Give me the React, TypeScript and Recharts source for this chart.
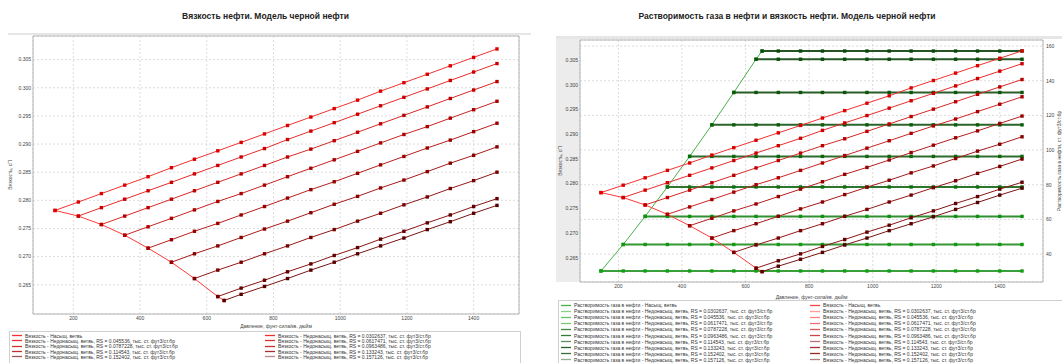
import React from 'react';
import { LineChart, Line, XAxis, YAxis, CartesianGrid, ReferenceArea } from 'recharts';

// pressure grid, psi
const pressures = [145, 215, 284, 354, 424, 494, 563, 633, 703, 773, 842, 912, 982, 1052, 1121, 1191, 1261, 1330, 1400, 1470];

// saturated branch (last point is the bubble point)
const satPressures = [145, 215, 284, 354, 424, 494, 563, 633, 652];
const satViscosity = [0.2782, 0.2772, 0.2757, 0.2738, 0.2715, 0.269, 0.2661, 0.2629, 0.2622];
const satRs = [30.26, 45.54, 61.75, 78.72, 96.35, 114.54, 133.24, 152.4, 157.13];
const rsLabels = ['0.0302637', '0.045536', '0.0617471', '0.0787228', '0.0963486', '0.114543', '0.133243', '0.152402', '0.157126'];

// undersaturated viscosity, one array per branch, from its saturation point to 1470 psi
const visc1 = [0.2782, 0.2797, 0.2812, 0.2827, 0.2842, 0.2858, 0.2873, 0.2888, 0.2903, 0.2918, 0.2933, 0.2948, 0.2963, 0.2978, 0.2994, 0.3009, 0.3024, 0.3039, 0.3054, 0.3069];
const visc2 = [0.2772, 0.2787, 0.2802, 0.2817, 0.2832, 0.2847, 0.2862, 0.2877, 0.2892, 0.2908, 0.2923, 0.2938, 0.2953, 0.2968, 0.2983, 0.2998, 0.3013, 0.3028, 0.3043];
const visc3 = [0.2757, 0.2772, 0.2787, 0.2802, 0.2817, 0.2832, 0.2847, 0.2862, 0.2877, 0.2891, 0.2906, 0.2921, 0.2936, 0.2951, 0.2966, 0.2981, 0.2996, 0.3011];
const visc4 = [0.2738, 0.2753, 0.2768, 0.2783, 0.2798, 0.2812, 0.2827, 0.2842, 0.2857, 0.2872, 0.2887, 0.2902, 0.2917, 0.2931, 0.2946, 0.2961, 0.2976];
const visc5 = [0.2715, 0.273, 0.2745, 0.2759, 0.2774, 0.2789, 0.2804, 0.2819, 0.2833, 0.2848, 0.2863, 0.2878, 0.2893, 0.2907, 0.2922, 0.2937];
const visc6 = [0.269, 0.2705, 0.2719, 0.2734, 0.2749, 0.2763, 0.2778, 0.2793, 0.2807, 0.2822, 0.2836, 0.2851, 0.2866, 0.288, 0.2895];
const visc7 = [0.2661, 0.2676, 0.269, 0.2705, 0.2719, 0.2734, 0.2748, 0.2763, 0.2777, 0.2792, 0.2806, 0.2821, 0.2835, 0.285];
const visc8 = [0.2629, 0.2644, 0.2658, 0.2673, 0.2687, 0.2702, 0.2716, 0.2731, 0.2745, 0.276, 0.2774, 0.2789, 0.2803];
const visc9 = [0.2622, 0.2633, 0.2647, 0.2661, 0.2676, 0.269, 0.2705, 0.2719, 0.2733, 0.2748, 0.2762, 0.2777, 0.2791];

const xTicks = [200, 400, 600, 800, 1000, 1200, 1400];
const viscTicks = [0.265, 0.27, 0.275, 0.28, 0.285, 0.29, 0.295, 0.3, 0.305];
const rsTicks = [40, 60, 80, 100, 120, 140, 160];

const viscBranches = [visc1, visc2, visc3, visc4, visc5, visc6, visc7, visc8, visc9];

type Pt = { p: number; v: number; rs: number };

const satData: Pt[] = satPressures.map((p, i) => ({ p, v: satViscosity[i], rs: satRs[i] }));
const branchData: Pt[][] = viscBranches.map((vals, i) => {
  const ps = [satPressures[i], ...pressures.filter((p) => p > satPressures[i])];
  return ps.map((p, j) => ({ p, v: vals[j], rs: satRs[i] }));
});

const viscNames = ['Вязкость - Насыщ. ветвь', ...rsLabels.map((r) => `Вязкость - Недонасыщ. ветвь, RS = ${r}, тыс. ст. фут3/ст.бр`)];
const rsNames = [
  'Растворимость газа в нефти - Насыщ. ветвь',
  ...rsLabels.map((r) => `Растворимость газа в нефти - Недонасыщ. ветвь, RS = ${r}, тыс. ст. фут3/ст.бр`),
];

// [saturated, branch 1..9]
const viscLine = ['#ff3a3a', '#f23232', '#e62c2c', '#d82828', '#c92323', '#b81e1e', '#a71a1a', '#961717', '#881515', '#7c1414'];
const viscDot = ['#ee1010', '#dd0000', '#cc0000', '#bb0000', '#aa0000', '#990000', '#880000', '#760000', '#620000', '#540000'];
const viscSwatch = ['#ff4040', '#ff9c9c', '#ff8080', '#f07070', '#e05555', '#c84848', '#c07070', '#a83030', '#982828', '#b08080'];
const viscSwatchLeft = ['#ff3030', '#f43030', '#ec3030', '#e23030', '#d43030', '#c83030', '#b83030', '#a82c2c', '#a05858', '#b88888'];
const rsLine = ['#48b048', '#3aa03a', '#349834', '#319031', '#2e762e', '#2c6c2c', '#2a642a', '#285e28', '#275827', '#265426'];
const rsDot = ['#14a014', '#12a012', '#109a10', '#0f920f', '#0c700c', '#0b680b', '#0a5f0a', '#0a570a', '#094f09', '#084808'];
const rsSwatch = ['#45b045', '#88d088', '#66c266', '#77c777', '#3a8a3a', '#347a34', '#5f8f5f', '#2a602a', '#3c6c3c', '#8faf8f'];

const font = '"Liberation Sans", Arial, sans-serif';
const tickStyle = { fontSize: 5, fill: '#444', fontFamily: font };

const squareDot = (color: string, size = 3.4) => (props: any) => {
  const { cx, cy, index } = props;
  if (cx == null || cy == null) return <g key={index} />;
  return <rect key={index} x={cx - size / 2} y={cy - size / 2} width={size} height={size} fill={color} />;
};

const fmtVisc = (v: number) => v.toFixed(3);

// rotated axis title placed just outside the right edge of the axis box
const rightAxisTitle = (text: string) => (props: any) => {
  const { x, y, width, height } = props.viewBox;
  const cx = x + width + 2;
  const cy = y + height / 2;
  return (
    <text x={cx} y={cy} transform={`rotate(-90 ${cx} ${cy})`} textAnchor="middle" dominantBaseline="central" style={tickStyle}>
      {text}
    </text>
  );
};

function LegendBox({ items, colors, left, top, width, colWidth, rowHeight, columnMajor, rows }: any) {
  const cells = items.map((name: string, i: number) => {
    const col = columnMajor ? Math.floor(i / rows) : i % 2;
    const row = columnMajor ? i % rows : Math.floor(i / 2);
    return (
      <div
        key={i}
        style={{
          position: 'absolute',
          left: 2 + col * colWidth,
          top: 1 + row * rowHeight,
          height: rowHeight,
          display: 'flex',
          alignItems: 'center',
          whiteSpace: 'nowrap',
        }}
      >
        <svg width={11} height={3} style={{ flex: 'none', marginRight: 2 }}>
          <line x1={0} y1={1.5} x2={10} y2={1.5} stroke={colors[i]} strokeWidth={1.3} />
        </svg>
        <span>{name}</span>
      </div>
    );
  });
  return (
    <div
      style={{
        position: 'absolute',
        left,
        top,
        width,
        height: 80,
        border: '1px solid #cfcfcf',
        background: '#fff',
        fontFamily: font,
        fontSize: 5,
        color: '#333',
      }}
    >
      {cells}
    </div>
  );
}

function ViscosityChart() {
  return (
    <div style={{ position: 'absolute', left: 0, top: 0, width: 531, height: 363 }}>
      <div
        style={{
          position: 'absolute',
          left: 0,
          top: 11,
          width: 531,
          textAlign: 'center',
          fontFamily: font,
          fontWeight: 700,
          fontSize: 8.5,
          color: '#222',
        }}
      >
        Вязкость нефти. Модель черной нефти
      </div>
      <div style={{ position: 'absolute', left: 8, top: 33, width: 523, height: 2, background: '#e6e6e6' }} />
      <div style={{ position: 'absolute', left: 0, top: 0 }}>
        <LineChart width={531} height={363} margin={{ top: 36, right: 12, bottom: 33, left: 8 }}>
          <CartesianGrid stroke="#dcdcdc" strokeDasharray="2 2" />
          <XAxis
            dataKey="p"
            type="number"
            domain={[79, 1536]}
            ticks={xTicks}
            allowDataOverflow
            axisLine={false}
            tickLine={false}
            tickSize={0}
            tickMargin={2}
            height={16}
            tick={tickStyle}
            label={{ value: 'Давление, фунт-сила/кв. дюйм', position: 'insideBottom', offset: 1.8, style: tickStyle }}
          />
          <YAxis
            type="number"
            domain={[0.2598, 0.3092]}
            ticks={viscTicks}
            allowDataOverflow
            tickFormatter={fmtVisc}
            axisLine={false}
            tickLine={false}
            tickSize={0}
            tickMargin={2}
            width={25}
            tick={tickStyle}
            label={{ value: 'Вязкость, сП', angle: -90, position: 'insideLeft', offset: 2, style: { ...tickStyle, textAnchor: 'middle' } }}
          />
          <ReferenceArea x1={79} x2={1536} y1={0.2598} y2={0.3092} fill="none" stroke="#b4b4b4" />
          <Line data={satData} dataKey="v" stroke={viscLine[0]} strokeWidth={1} dot={squareDot(viscDot[0])} isAnimationActive={false} />
          {branchData.map((d, i) => (
            <Line
              key={i}
              data={d}
              dataKey="v"
              stroke={viscLine[i + 1]}
              strokeWidth={1}
              dot={squareDot(viscDot[i + 1])}
              isAnimationActive={false}
            />
          ))}
        </LineChart>
      </div>
      <LegendBox items={viscNames} colors={viscSwatchLeft} left={9} top={331} width={510} colWidth={253} rowHeight={5.3} rows={5} />
    </div>
  );
}

function CombinedChart() {
  return (
    <div style={{ position: 'absolute', left: 531, top: 0, width: 531, height: 363 }}>
      <div
        style={{
          position: 'absolute',
          left: 0,
          top: 11,
          width: 512,
          textAlign: 'center',
          fontFamily: font,
          fontWeight: 700,
          fontSize: 8.5,
          color: '#222',
        }}
      >
        Растворимость газа в нефти и вязкость нефти. Модель черной нефти
      </div>
      <div style={{ position: 'absolute', left: 25, top: 36, width: 506, height: 3, background: '#e6e6e6' }} />
      <div style={{ position: 'absolute', left: 25, top: 39, width: 24, height: 243, background: '#ececec' }} />
      <div style={{ position: 'absolute', left: 0, top: 0 }}>
        <LineChart width={531} height={363} margin={{ top: 40, right: 5, bottom: 64, left: 24 }}>
          <CartesianGrid stroke="#dcdcdc" strokeDasharray="2 2" yAxisId="rs" />
          <XAxis
            dataKey="p"
            type="number"
            domain={[79, 1536]}
            ticks={xTicks}
            allowDataOverflow
            axisLine={false}
            tickLine={false}
            tickSize={0}
            tickMargin={2}
            height={17}
            tick={tickStyle}
            label={{ value: 'Давление, фунт-сила/кв. дюйм', position: 'insideBottom', offset: 0.5, style: tickStyle }}
          />
          <YAxis
            yAxisId="visc"
            type="number"
            domain={[0.2601, 0.3091]}
            ticks={viscTicks}
            allowDataOverflow
            tickFormatter={fmtVisc}
            axisLine={false}
            tickLine={false}
            tickSize={0}
            tickMargin={2}
            width={25}
            tick={tickStyle}
            label={{ value: 'Вязкость, сП', angle: -90, position: 'insideLeft', offset: 5, style: { ...tickStyle, textAnchor: 'middle' } }}
          />
          <YAxis
            yAxisId="rs"
            orientation="right"
            type="number"
            domain={[23.9, 163.5]}
            ticks={rsTicks}
            allowDataOverflow
            axisLine={false}
            tickLine={false}
            tickSize={0}
            tickMargin={3}
            width={14}
            tick={tickStyle}
            label={rightAxisTitle('Растворимость газа в нефти, ст. фут3/ст.бр')}
          />
          <ReferenceArea yAxisId="rs" x1={79} x2={1536} y1={23.9} y2={163.5} fill="none" stroke="#b4b4b4" />
          <Line yAxisId="rs" data={satData} dataKey="rs" stroke={rsLine[0]} strokeWidth={1} dot={squareDot(rsDot[0])} isAnimationActive={false} />
          {branchData.map((d, i) => (
            <Line
              key={`rs${i}`}
              yAxisId="rs"
              data={d}
              dataKey="rs"
              stroke={rsLine[i + 1]}
              strokeWidth={2}
              dot={squareDot(rsDot[i + 1])}
              isAnimationActive={false}
            />
          ))}
          <Line yAxisId="visc" data={satData} dataKey="v" stroke={viscLine[0]} strokeWidth={1} dot={squareDot(viscDot[0])} isAnimationActive={false} />
          {branchData.map((d, i) => (
            <Line
              key={`v${i}`}
              yAxisId="visc"
              data={d}
              dataKey="v"
              stroke={viscLine[i + 1]}
              strokeWidth={1}
              dot={squareDot(viscDot[i + 1])}
              isAnimationActive={false}
            />
          ))}
        </LineChart>
      </div>
      <LegendBox
        items={[...rsNames, ...viscNames]}
        colors={[...rsSwatch, ...viscSwatch]}
        left={27}
        top={300}
        width={504}
        colWidth={249}
        rowHeight={6.1}
        columnMajor
        rows={10}
      />
    </div>
  );
}

export default function App() {
  return (
    <div style={{ position: 'absolute', left: 0, top: 0, width: 1062, height: 363, background: '#fff', overflow: 'hidden' }}>
      <ViscosityChart />
      <CombinedChart />
    </div>
  );
}
